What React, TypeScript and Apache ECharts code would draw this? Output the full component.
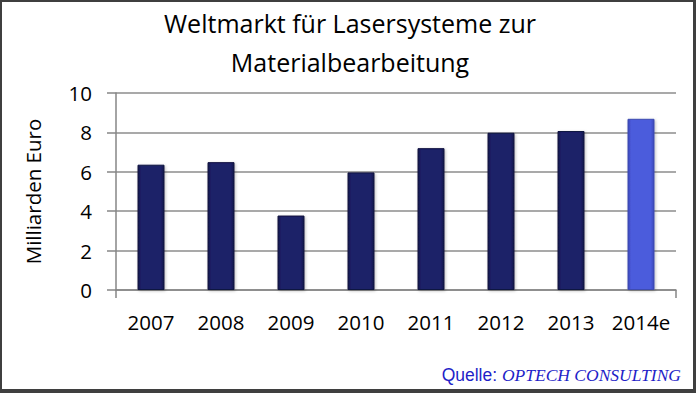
import React, { useEffect, useRef } from "react";
import * as echarts from "echarts";

const categories = ["2007", "2008", "2009", "2010", "2011", "2012", "2013", "2014e"];
const values = [6.36, 6.49, 3.78, 5.97, 7.2, 7.98, 8.07, 8.69];
const isEstimate = [false, false, false, false, false, false, false, true];
const yTicks = { min: 0, max: 10, interval: 2 };

const titleLines = ["Weltmarkt für Lasersysteme zur", "Materialbearbeitung"];
const yAxisName = "Milliarden Euro";

function barStyle(est: boolean) {
  const edge = est ? "#3a48b8" : "#12154a";
  const main = est ? "#4b5bdc" : "#1c2068";
  return {
    color: new echarts.graphic.LinearGradient(0, 0, 1, 0, [
      { offset: 0, color: edge },
      { offset: 0.12, color: main },
      { offset: 0.88, color: main },
      { offset: 1, color: edge },
    ]),
    borderColor: est ? "#3d4bb0" : "#10133f",
    borderWidth: 1,
    shadowColor: "rgba(0,0,0,0.25)",
    shadowBlur: 3,
    shadowOffsetX: 1,
    shadowOffsetY: 1,
  };
}

export default function App() {
  const ref = useRef<HTMLDivElement>(null);
  useEffect(() => {
    if (!ref.current) return;
    const chart = echarts.init(ref.current, null, { renderer: "svg" });
    const font = "Open Sans";
    chart.setOption({
      animation: false,
      backgroundColor: "#ffffff",
      grid: { left: 116, right: 20, top: 93, bottom: 103, containLabel: false },
      xAxis: {
        type: "category",
        data: categories,
        axisLine: { lineStyle: { color: "#868686", width: 1.5 } },
        axisTick: {
          show: true,
          length: 8,
          interval: (i: number) => i === 0,
          lineStyle: { color: "#868686", width: 1.5 },
        },
        axisLabel: { interval: 0, fontFamily: font, fontSize: 20.5, color: "#000", margin: 21 },
      },
      yAxis: {
        type: "value",
        min: yTicks.min,
        max: yTicks.max,
        interval: yTicks.interval,
        name: yAxisName,
        nameLocation: "middle",
        nameGap: 73,
        nameTextStyle: { fontFamily: font, fontSize: 20.5, color: "#000" },
        axisLine: { show: true, lineStyle: { color: "#868686", width: 1.5 } },
        axisTick: { show: true, length: 9, lineStyle: { color: "#868686", width: 1.5 } },
        axisLabel: { fontFamily: font, fontSize: 20.5, color: "#000", margin: 24 },
        splitLine: { lineStyle: { color: "#8c8c8c", width: 1.5 } },
      },
      series: [
        {
          type: "bar",
          barWidth: 27,
          data: values.map((v, i) => ({ value: v, itemStyle: barStyle(isEstimate[i]) })),
        },
      ],
      graphic: [
        {
          type: "text",
          x: 350,
          y: 23,
          style: {
            text: titleLines[0],
            align: "center",
            verticalAlign: "middle",
            fontFamily: font,
            fontSize: 25,
            fill: "#000",
          },
        },
        {
          type: "text",
          x: 350,
          y: 62,
          style: {
            text: titleLines[1],
            align: "center",
            verticalAlign: "middle",
            fontFamily: font,
            fontSize: 25,
            fill: "#000",
          },
        },
        {
          type: "text",
          right: 15,
          bottom: 9,
          style: {
            text: "{a|Quelle: }{b|OPTECH CONSULTING}",
            rich: {
              a: { fontFamily: "Liberation Sans", fontSize: 17.5, fill: "#1f1fc8" },
              b: { fontFamily: "Liberation Serif", fontSize: 17.5, fontStyle: "italic", fill: "#1f1fc8" },
            },
          },
        },
        { type: "rect", shape: { x: 0, y: 0, width: 696, height: 2 }, style: { fill: "#3f3f3f" } },
        { type: "rect", shape: { x: 0, y: 0, width: 2, height: 393 }, style: { fill: "#3f3f3f" } },
        { type: "rect", shape: { x: 693, y: 0, width: 3, height: 393 }, style: { fill: "#3f3f3f" } },
        { type: "rect", shape: { x: 0, y: 389, width: 696, height: 4 }, style: { fill: "#3f3f3f" } },
      ],
    });
    return () => chart.dispose();
  }, []);
  return (
    <div
      ref={ref}
      style={{ position: "fixed", left: 0, top: 0, width: 696, height: 393 }}
    />
  );
}
